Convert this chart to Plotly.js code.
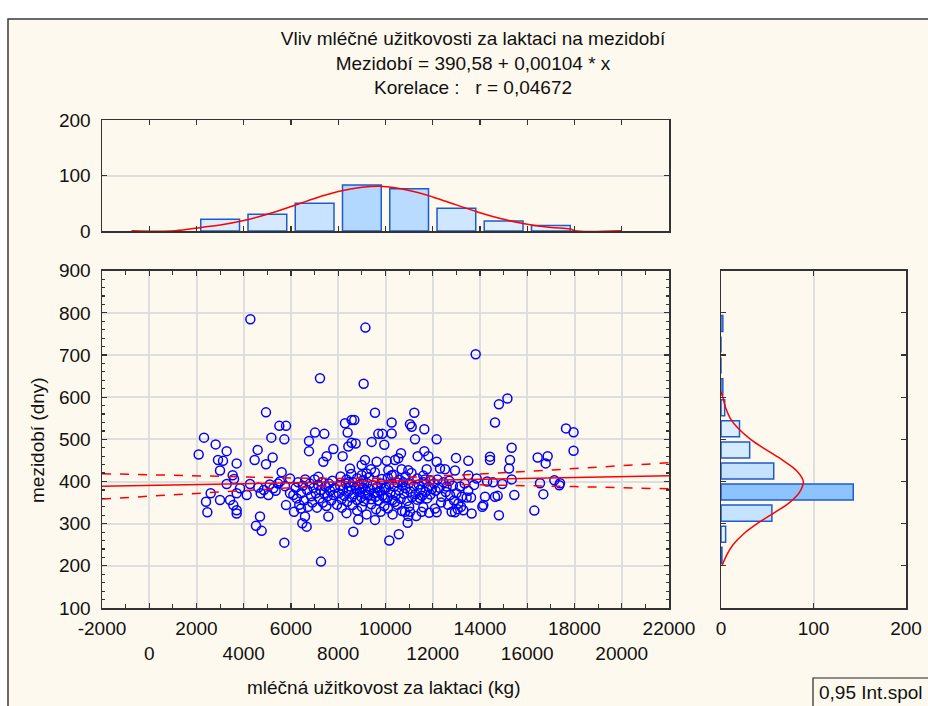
<!DOCTYPE html>
<html><head><meta charset="utf-8">
<script src="https://cdn.plot.ly/plotly-3.0.1.min.js"></script>
<style>html,body{margin:0;padding:0;background:#fff;} #chart{width:928px;height:706px;}</style>
</head><body><div id="chart"></div>
<script>
// ---------- DATA ----------
const milkX = [
2318,2811,2092,3277,2910,3122,3700,2995,3531,3588,3277,3842,2600,3700,2402,2995,3418,2459,3559,3700,3700,
4279,4942,5507,5789,5168,5718,4589,4462,4942,5224,5605,5958,4265,5535,4617,5253,5746,4124,4716,5041,5958,5789,4688,4518,4758,5718,5100,5350,5450,4850,
7227,7016,7411,6762,6762,7792,7509,7368,7157,6423,6592,6479,6663,7270,7580,6100,6127,
6200,6250,6300,6350,6420,6500,6550,6600,6680,6720,6800,6850,6900,6950,7000,7050,7100,7150,7200,7250,7300,7350,7400,7450,7500,7550,7600,7650,7700,7750,7800,7850,7950,
9150,9075,9555,8286,8568,8680,8398,9697,9866,9414,9950,8568,8737,8187,8427,9132,8991,9626,8497,9386,8991,9203,8638,8850,9555,
8100,8350,8550,8800,9050,9300,9550,9850,
8020,8080,8140,8200,8260,8320,8380,8440,8500,8560,8620,8680,8740,8800,8860,8920,8980,9040,9100,9160,9220,9280,9340,9400,9460,9520,9580,9640,9700,9760,9820,9880,9940,9990,8450,9150,9650,8900,
8150,8350,8600,8800,9000,9200,9400,9600,9800,9950,
10261,10261,10049,10402,10120,10261,10162,10564,11220,11037,11108,11644,11249,10656,10543,11361,11644,11813,10684,10966,11743,11672,11531,11037,10825,10966,10938,
10100,10350,10600,10850,11100,11350,11600,11900,
10030,10090,10150,10210,10290,10360,10430,10500,10570,10640,10710,10780,10850,10920,10990,11060,11130,11200,11270,11340,11410,11480,11550,11620,11690,11760,11830,11900,11960,10400,10750,11450,
10100,10300,10500,10700,11000,11300,11600,11850,
13817,12166,12166,12984,13506,12307,12519,12942,13506,13859,13153,12589,12730,13224,13435,13619,13083,13055,13647,13294,13196,12801,12942,12095,12166,12378,
12050,12120,12200,12280,12350,12450,12550,12650,12700,12850,12900,13000,13350,13500,13750,
14212,14141,14099,14635,14423,14423,14800,14635,15160,15341,15270,15228,15341,14945,14748,15453,14800,14300,14550,
17640,17960,17960,16441,16864,16780,17147,17387,17358,16540,16681,16300
];
const intervalY = [
504,488,464,472,451,449,443,426,415,406,394,384,372,372,352,356,356,327,344,332,324,
785,564,532,532,504,500,475,451,441,457,422,407,394,400,386,384,389,368,372,368,372,344,317,295,283,255,393,378,395,380,
645,516,513,496,472,477,460,447,411,336,317,301,293,210,317,368,328,
385,360,398,345,372,390,355,405,380,340,395,365,350,385,405,372,338,392,360,380,398,350,372,388,342,365,395,378,355,402,368,385,345,
765,632,563,538,546,546,516,513,513,494,487,492,490,460,483,451,439,447,431,429,415,419,281,310,309,
412,405,418,408,403,410,422,406,
372,390,358,381,366,395,352,377,388,362,398,370,384,356,392,375,363,386,353,379,396,368,382,358,391,373,364,387,355,378,395,367,383,360,399,369,374,381,
338,325,344,331,340,322,346,334,328,342,
540,514,449,451,427,415,260,275,563,536,530,524,500,467,455,460,472,460,429,427,429,405,328,328,328,318,302,
409,416,404,412,420,407,414,403,
385,362,393,374,356,388,368,397,379,359,391,371,384,354,396,376,363,389,370,357,393,381,366,398,375,360,387,369,382,352,398,361,
336,322,345,330,341,318,339,326,
702,500,447,456,449,431,429,426,415,407,388,388,368,364,362,362,348,334,324,332,340,328,327,336,327,364,
395,378,405,385,350,398,375,345,402,390,355,372,395,378,392,
364,344,340,364,459,451,583,540,597,480,451,431,405,394,366,368,320,400,398,
526,517,473,457,460,443,403,396,391,396,370,331
];

// regression line and 0.95 confidence band
const fitX = [-2000, 22000];
const fitY = [388.5, 413.5];
const ciX = [-2000, 0, 2000, 4000, 6000, 8000, 10000, 12000, 14000, 16000, 18000, 20000, 22000];
const ciUpper = [418.5, 415.8, 413.2, 410.6, 408.5, 407.2, 408.0, 412.0, 417.6, 424.0, 430.7, 437.5, 444.4];
const ciLower = [358.5, 365.4, 372.2, 378.8, 385.1, 390.6, 394.0, 394.2, 392.6, 390.4, 387.9, 385.3, 382.6];

// top histogram (milk yield)
const milkBins = [3000, 5000, 7000, 9000, 11000, 13000, 15000, 17000];
const milkCounts = [21, 30, 50, 83, 76, 41, 18, 10];
const milkCurveX = [-750, 1100, 2200, 3000, 4000, 5000, 6000, 7000, 8000, 9000, 9800, 11000, 12000, 13000, 14000, 15000, 16000, 17000, 17800, 18000, 20000];
const milkCurveY = [0.5, 0.5, 6.5, 10.8, 18.9, 30.3, 44, 58.7, 71, 78.7, 80.5, 73, 61.4, 47, 32.9, 21, 12.2, 6.5, 3.8, 0.5, 0.5];

// right histogram (interval)
const dayBins = [225, 275, 325, 375, 425, 475, 525, 575, 625, 675, 725, 775];
const dayCounts = [1, 5, 55, 143, 57, 31, 20, 4, 2, 0, 0, 2];
const dayCurveY = [200, 225, 250, 275, 300, 325, 350, 375, 400, 425, 450, 475, 500, 525, 550, 575, 600, 613];
const dayCurveX = [1, 6, 13, 24, 39, 57, 74, 85, 89, 82, 67, 49, 32, 19, 10, 5, 2, 0];

// tick labels
const xTickVals = [-2000,0,2000,4000,6000,8000,10000,12000,14000,16000,18000,20000,22000];
const xTickText = ['-2000','<br>0','2000','<br>4000','6000','<br>8000','10000','<br>12000','14000','<br>16000','18000','<br>20000','22000'];
const yTickVals = [100,200,300,400,500,600,700,800,900];
const yTickText = ['100','200','300','400','500','600','700','800','900'];
const histYTicks = [0,100,200];
const histYText = ['0','100','200'];

// ---------- LAYOUT HELPERS ----------
const W = 928, H = 706;
const fx = p => p / W;
const fy = p => 1 - p / H;
const FONT = 'Liberation Sans, Arial, sans-serif';
const frame = '#333333';
function shade(v){ const t = Math.min(v/2/150, 1); return 'rgb(' + Math.round(232-190*t) + ',' + Math.round(244-100*t) + ',255)'; }

const traces = [
  {type:'scatter', mode:'markers', x:milkX, y:intervalY, xaxis:'x', yaxis:'y',
   marker:{symbol:'circle-open', size:9, color:'#0000ff', line:{width:1.5, color:'#0000ff'}}},
  {type:'scatter', mode:'lines', x:ciX, y:ciUpper, xaxis:'x', yaxis:'y', line:{color:'#ff0000', width:1.5, dash:'dash'}},
  {type:'scatter', mode:'lines', x:ciX, y:ciLower, xaxis:'x', yaxis:'y', line:{color:'#ff0000', width:1.5, dash:'dash'}},
  {type:'scatter', mode:'lines', x:fitX, y:fitY, xaxis:'x', yaxis:'y', line:{color:'#ff0000', width:1.5}},
  {type:'bar', x:milkBins, y:milkCounts, width:1640, xaxis:'x2', yaxis:'y2',
   marker:{color:milkCounts.map(shade), line:{color:'#1e5ad0', width:1.5}}},
  {type:'scatter', mode:'lines', x:milkCurveX, y:milkCurveY, xaxis:'x2', yaxis:'y2', line:{color:'#ff0000', width:1.5, shape:'spline'}},
  {type:'bar', orientation:'h', y:dayBins, x:dayCounts, width:38, xaxis:'x3', yaxis:'y3',
   marker:{color:dayCounts.map(shade), line:{color:'#1e5ad0', width:1.5}}},
  {type:'scatter', mode:'lines', x:dayCurveX, y:dayCurveY, xaxis:'x3', yaxis:'y3', line:{color:'#ff0000', width:1.5, shape:'spline'}}
];

const axBase = {showline:true, mirror:'ticks', linecolor:frame, linewidth:1.5, ticks:'inside', ticklen:5, tickcolor:frame, tickwidth:1.2,
  zeroline:false, gridcolor:'#dedede', gridwidth:2, tickfont:{family:FONT, size:19, color:'#111'}, fixedrange:true, tickangle:0};

const layout = {
  width:W, height:H, autosize:false, margin:{l:0,r:0,t:0,b:0},
  paper_bgcolor:'#ffffff', plot_bgcolor:'#ffffff', showlegend:false, bargap:0,
  font:{family:FONT, size:19, color:'#111'},
  title:{text:'Vliv mléčné užitkovosti za laktaci na mezidobí<br>Mezidobí = 390,58 + 0,00104 * x<br>Korelace :\u00a0\u00a0\u00a0r = 0,04672',
    x:fx(473), xanchor:'center', xref:'paper', y:fy(45), yref:'paper', yanchor:'top', font:{family:FONT, size:19, color:'#111'}},
  xaxis:Object.assign({}, axBase, {domain:[fx(102), fx(669)], range:[-2000,22000], anchor:'y',
    tickmode:'array', tickvals:xTickVals, ticktext:xTickText, showgrid:true, ticklabelstandoff:3,
    minor:{tickmode:'linear', tick0:0, dtick:1000, ticks:'inside', ticklen:4, tickcolor:frame, showgrid:false}}),
  yaxis:Object.assign({}, axBase, {domain:[fy(608), fy(270.7)], range:[100,900], anchor:'x',
    tickmode:'array', tickvals:yTickVals, ticktext:yTickText, showgrid:true, ticklabelstandoff:6,
    minor:{tickmode:'linear', tick0:100, dtick:20, ticks:'inside', ticklen:3, tickcolor:frame, showgrid:false}}),
  xaxis2:Object.assign({}, axBase, {domain:[fx(102), fx(669)], range:[-2000,22000], anchor:'y2',
    tickmode:'linear', tick0:0, dtick:2000, showticklabels:false, showgrid:false}),
  yaxis2:Object.assign({}, axBase, {domain:[fy(231), fy(120)], range:[0,200], anchor:'x2',
    tickmode:'array', tickvals:histYTicks, ticktext:histYText, showgrid:true, ticklabelstandoff:6}),
  xaxis3:Object.assign({}, axBase, {domain:[fx(721), fx(906)], range:[0,200], anchor:'y3',
    tickmode:'array', tickvals:histYTicks, ticktext:histYText, showgrid:true, ticklabelstandoff:3}),
  yaxis3:Object.assign({}, axBase, {domain:[fy(608), fy(270.7)], range:[100,900], anchor:'x3',
    tickmode:'linear', tick0:100, dtick:100, showticklabels:false, showgrid:false}),
  shapes:[
    {type:'rect', xref:'paper', yref:'paper', x0:fx(8), x1:1.05, y0:-0.05, y1:fy(19), layer:'below',
     fillcolor:'#fef9ee', line:{color:'#3a3a3a', width:1.5}},
    {type:'rect', xref:'paper', yref:'paper', x0:fx(813), x1:1.05, y0:-0.05, y1:fy(678), layer:'below',
     fillcolor:'#fef9ee', line:{color:'#222', width:1.2}}
  ],
  annotations:[
    {text:'mezidobí (dny)', xref:'paper', yref:'paper', x:fx(37), y:fy(440), textangle:-90, showarrow:false,
     xanchor:'center', yanchor:'middle', font:{family:FONT, size:19, color:'#111'}},
    {text:'mléčná užitkovost za laktaci (kg)', xref:'paper', yref:'paper', x:fx(384), y:fy(687), showarrow:false,
     xanchor:'center', yanchor:'middle', font:{family:FONT, size:19, color:'#111'}},
    {text:'0,95 Int.spol', xref:'paper', yref:'paper', x:fx(817), y:fy(692), showarrow:false,
     xanchor:'left', yanchor:'middle', font:{family:FONT, size:19, color:'#111'}}
  ]
};

Plotly.newPlot('chart', traces, layout, {displayModeBar:false, staticPlot:true});
</script></body></html>
